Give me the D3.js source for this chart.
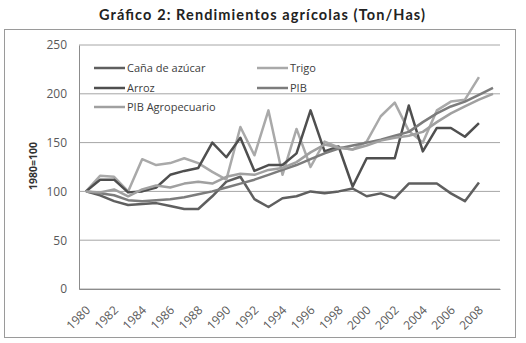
<!DOCTYPE html>
<html>
<head>
<meta charset="utf-8">
<script src="https://cdn.jsdelivr.net/npm/d3@7"></script>
<style>
  body { margin: 0; background: #fff; }
  svg text { font-family: "Open Sans", "Liberation Sans", sans-serif; }
</style>
</head>
<body>
<div id="chart"></div>
<script>
// categories (years) and tick labels
const years = [1980, 1981, 1982, 1983, 1984, 1985, 1986, 1987, 1988, 1989,
    1990, 1991, 1992, 1993, 1994, 1995, 1996, 1997, 1998, 1999,
    2000, 2001, 2002, 2003, 2004, 2005, 2006, 2007, 2008, 2009];
const xTickLabels = [1980, 1982, 1984, 1986, 1988, 1990, 1992, 1994, 1996, 1998, 2000, 2002, 2004, 2006, 2008];
const yTicks = [0, 50, 100, 150, 200, 250];

// series values (1980=100)
const cana = [100, 96, 90, 86, 87, 88, 85, 82, 82, 95, 110, 115, 92, 84, 93, 95, 100, 98, 100, 103,
    95, 98, 93, 108, 108, 108, 98, 90, 109];
const trigo = [100, 116, 115, 100, 133, 127, 129, 134, 129, 120, 112, 166, 137, 183, 117, 164, 125, 151, 145, 143,
    151, 177, 191, 162, 150, 183, 192, 194, 217];
const arroz = [100, 112, 112, 99, 100, 104, 117, 121, 124, 150, 135, 155, 121, 127, 127, 139, 183, 141, 146, 105,
    134, 134, 134, 188, 141, 165, 165, 156, 170];
const pib = [100, 98, 96, 91, 90, 91, 92, 94, 97, 100, 104, 108, 112, 117, 122, 127, 133, 139, 144, 147,
    150, 153, 157, 161, 171, 180, 187, 192, 199, 206];
const pibAgro = [100, 99, 102, 95, 102, 106, 104, 108, 110, 108, 115, 118, 117, 122, 124, 130, 140, 148, 145, 143,
    147, 152, 155, 157, 161, 171, 180, 187, 194, 200];

const seriesNames = ["Caña de azúcar", "Trigo", "Arroz", "PIB", "PIB Agropecuario"];
const seriesValues = [cana, trigo, arroz, pib, pibAgro];
const seriesColors = ["#5f5f5f", "#a9a9a9", "#4f4f4f", "#7c7c7c", "#a0a0a0"];

const W = 526, H = 343;
const margin = {top: 45, right: 26, bottom: 54, left: 79},
    width = W - margin.left - margin.right,
    height = H - margin.top - margin.bottom;

const svg = d3.select("#chart")
    .append("svg")
        .attr("width", W)
        .attr("height", H);

// outer frame
svg.append("rect")
    .attr("x", 4.5)
    .attr("y", 29.5)
    .attr("width", 511)
    .attr("height", 308)
    .attr("fill", "none")
    .attr("stroke", "#9a9a9a");

// title
svg.append("text")
    .attr("x", 262)
    .attr("y", 20)
    .attr("text-anchor", "middle")
    .attr("textLength", 326)
    .attr("lengthAdjust", "spacing")
    .style("font-family", "Lato, sans-serif")
    .style("font-weight", "bold")
    .style("font-size", "14.5px")
    .attr("fill", "#222")
    .text("Gráfico 2: Rendimientos agrícolas (Ton/Has)");

const g = svg.append("g")
    .attr("transform", `translate(${margin.left}, ${margin.top})`);

const x = d3.scaleBand()
    .domain(years)
    .range([0, width]);

const y = d3.scaleLinear()
    .domain([0, 250])
    .range([height, 0]);

const xc = d => x(d) + x.bandwidth() / 2;

// horizontal gridlines
g.selectAll("line.grid")
    .data(yTicks)
    .join("line")
    .attr("class", "grid")
    .attr("x1", 0)
    .attr("x2", width)
    .attr("y1", d => y(d))
    .attr("y2", d => y(d))
    .attr("stroke", "#a6a6a6")
    .attr("stroke-width", 1);

// y axis
const yAxis = g.append("g")
    .call(d3.axisLeft(y).tickValues(yTicks).tickSize(0).tickPadding(12));
yAxis.select(".domain").attr("stroke", "#8c8c8c");
yAxis.selectAll("text")
    .style("font-size", "12px")
    .attr("fill", "#595959");

// x axis
const xAxis = g.append("g")
    .attr("transform", `translate(0, ${height})`)
    .call(d3.axisBottom(x).tickValues(xTickLabels).tickSize(0));
xAxis.select(".domain").attr("stroke", "#8c8c8c");
xAxis.selectAll("text")
    .style("font-size", "12px")
    .attr("fill", "#595959")
    .attr("text-anchor", "end")
    .attr("x", 0)
    .attr("y", 0)
    .attr("dx", 0)
    .attr("dy", "0.35em")
    .attr("transform", "translate(2, 19) rotate(-45)");

// y axis label
svg.append("text")
    .attr("transform", "rotate(-90)")
    .attr("x", -166)
    .attr("y", 37)
    .attr("text-anchor", "middle")
    .style("font-size", "10.5px")
    .style("font-weight", "bold")
    .attr("fill", "#333")
    .text("1980=100");

// lines
const line = d3.line()
    .x((d, i) => xc(years[i]))
    .y(d => y(d));

g.selectAll("path.series")
    .data(seriesValues)
    .join("path")
    .attr("class", "series")
    .attr("fill", "none")
    .attr("stroke", (d, i) => seriesColors[i])
    .attr("stroke-width", 2.5)
    .attr("stroke-linejoin", "round")
    .attr("d", d => line(d));

// legend
const legendPos = [[15, 23], [178, 23], [15, 43], [178, 43], [15, 62]];
const legend = g.selectAll("g.legend")
    .data(seriesNames)
    .join("g")
    .attr("class", "legend")
    .attr("transform", (d, i) => `translate(${legendPos[i][0]}, ${legendPos[i][1]})`);

legend.append("line")
    .attr("x1", 0)
    .attr("x2", 31)
    .attr("stroke", (d, i) => seriesColors[i])
    .attr("stroke-width", 2.5);

legend.append("text")
    .attr("x", 33)
    .attr("dy", "0.35em")
    .style("font-size", "11px")
    .attr("fill", "#404040")
    .text(d => d);
</script>
</body>
</html>
